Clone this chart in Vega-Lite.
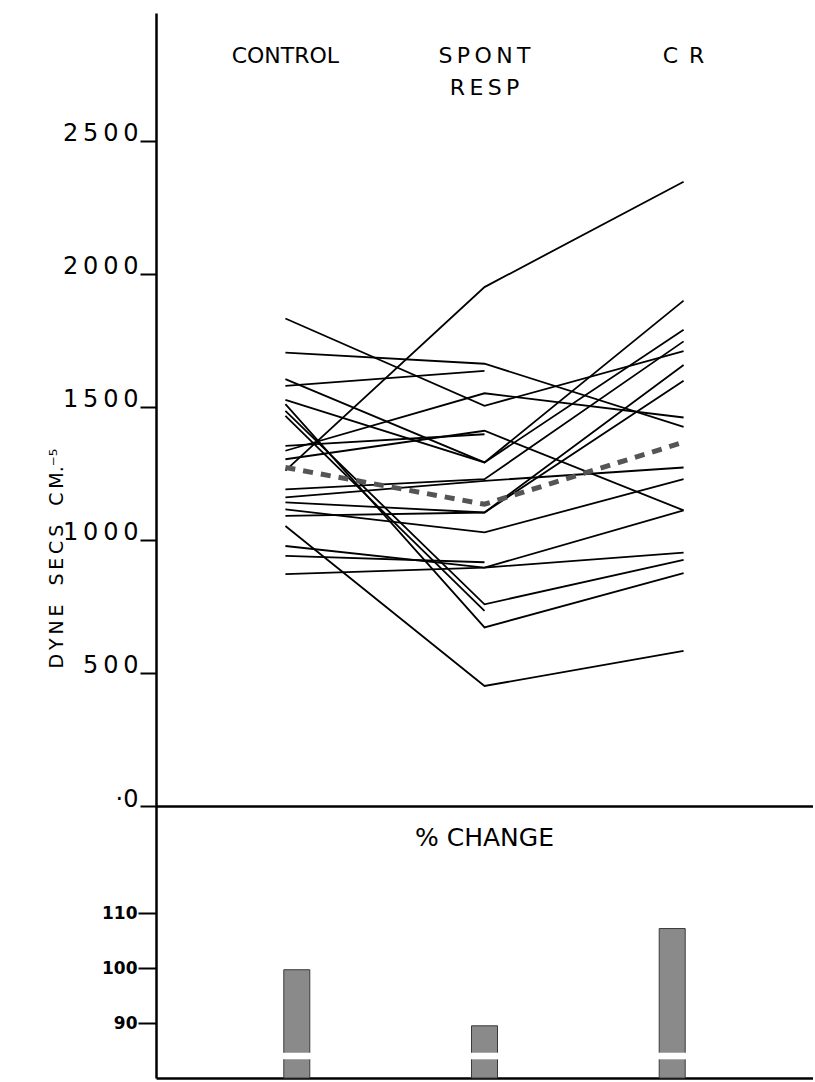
{
  "$schema": "https://vega.github.io/schema/vega-lite/v6.json",
  "padding": {"left": 47, "top": 13, "right": 0, "bottom": 2},
  "background": "white",
  "config": {"view": {"stroke": null}, "font": "DejaVu Sans"},
  "datasets": {
    "subjects": [
      {"subj": "S1", "cond": "CONTROL", "v": 1260}, {"subj": "S1", "cond": "SPONT RESP", "v": 1950}, {"subj": "S1", "cond": "CR", "v": 2346},
      {"subj": "S2", "cond": "CONTROL", "v": 1832}, {"subj": "S2", "cond": "SPONT RESP", "v": 1504}, {"subj": "S2", "cond": "CR", "v": 1709},
      {"subj": "S3", "cond": "CONTROL", "v": 1704}, {"subj": "S3", "cond": "SPONT RESP", "v": 1662}, {"subj": "S3", "cond": "CR", "v": 1425},
      {"subj": "S4", "cond": "CONTROL", "v": 1579}, {"subj": "S4", "cond": "SPONT RESP", "v": 1635},
      {"subj": "S5", "cond": "CONTROL", "v": 1604}, {"subj": "S5", "cond": "SPONT RESP", "v": 1291}, {"subj": "S5", "cond": "CR", "v": 1790},
      {"subj": "S6", "cond": "CONTROL", "v": 1526}, {"subj": "S6", "cond": "SPONT RESP", "v": 1291}, {"subj": "S6", "cond": "CR", "v": 1899},
      {"subj": "S7", "cond": "CONTROL", "v": 1335}, {"subj": "S7", "cond": "SPONT RESP", "v": 1551}, {"subj": "S7", "cond": "CR", "v": 1460},
      {"subj": "S8", "cond": "CONTROL", "v": 1353}, {"subj": "S8", "cond": "SPONT RESP", "v": 1397},
      {"subj": "S9", "cond": "CONTROL", "v": 1510}, {"subj": "S9", "cond": "SPONT RESP", "v": 671}, {"subj": "S9", "cond": "CR", "v": 875},
      {"subj": "S10", "cond": "CONTROL", "v": 1485}, {"subj": "S10", "cond": "SPONT RESP", "v": 758}, {"subj": "S10", "cond": "CR", "v": 925},
      {"subj": "S11", "cond": "CONTROL", "v": 1466}, {"subj": "S11", "cond": "SPONT RESP", "v": 733},
      {"subj": "S12", "cond": "CONTROL", "v": 1052}, {"subj": "S12", "cond": "SPONT RESP", "v": 451}, {"subj": "S12", "cond": "CR", "v": 583},
      {"subj": "S13", "cond": "CONTROL", "v": 1190}, {"subj": "S13", "cond": "SPONT RESP", "v": 1228}, {"subj": "S13", "cond": "CR", "v": 1746},
      {"subj": "S14", "cond": "CONTROL", "v": 1141}, {"subj": "S14", "cond": "SPONT RESP", "v": 1103}, {"subj": "S14", "cond": "CR", "v": 1657},
      {"subj": "S15", "cond": "CONTROL", "v": 1115}, {"subj": "S15", "cond": "SPONT RESP", "v": 1028}, {"subj": "S15", "cond": "CR", "v": 1228},
      {"subj": "S16", "cond": "CONTROL", "v": 977}, {"subj": "S16", "cond": "SPONT RESP", "v": 896}, {"subj": "S16", "cond": "CR", "v": 1111},
      {"subj": "S17", "cond": "CONTROL", "v": 940}, {"subj": "S17", "cond": "SPONT RESP", "v": 916},
      {"subj": "S18", "cond": "CONTROL", "v": 871}, {"subj": "S18", "cond": "SPONT RESP", "v": 896}, {"subj": "S18", "cond": "CR", "v": 952},
      {"subj": "S19", "cond": "CONTROL", "v": 1303}, {"subj": "S19", "cond": "SPONT RESP", "v": 1410}, {"subj": "S19", "cond": "CR", "v": 1111},
      {"subj": "S20", "cond": "CONTROL", "v": 1160}, {"subj": "S20", "cond": "SPONT RESP", "v": 1222}, {"subj": "S20", "cond": "CR", "v": 1272},
      {"subj": "S21", "cond": "CONTROL", "v": 1090}, {"subj": "S21", "cond": "SPONT RESP", "v": 1103}, {"subj": "S21", "cond": "CR", "v": 1598}
    ],
    "mean": [
      {"cond": "CONTROL", "v": 1272}, {"cond": "SPONT RESP", "v": 1134}, {"cond": "CR", "v": 1367}
    ],
    "headers": [
      {"cond": "CONTROL", "label": "CONTROL"},
      {"cond": "SPONT RESP", "label": "S\u2009P\u2009O\u2009N\u2009T\nR\u2009E\u2009S\u2009P"},
      {"cond": "CR", "label": "C\u2002R"}
    ],
    "pct": [
      {"cond": "CONTROL", "pct": 99.7},
      {"cond": "SPONT RESP", "pct": 89.5},
      {"cond": "CR", "pct": 107.2}
    ]
  },
  "spacing": 0,
  "bounds": "flush",
  "vconcat": [
    {
      "width": 657,
      "height": 793,
      "encoding": {
        "x": {
          "field": "cond", "type": "nominal",
          "scale": {"type": "point", "domain": ["CONTROL", "SPONT RESP", "CR"], "padding": 0.65},
          "axis": {"orient": "bottom", "labels": false, "ticks": false, "title": null, "grid": false, "domainColor": "black", "domainWidth": 2.5}
        }
      },
      "layer": [
        {
          "data": {"name": "subjects"},
          "mark": {"type": "line", "color": "black", "strokeWidth": 1.8},
          "encoding": {
            "y": {
              "field": "v", "type": "quantitative",
              "scale": {"domain": [0, 2980], "nice": false, "zero": true},
              "axis": {
                "values": [0, 500, 1000, 1500, 2000, 2500], "format": "d",
                "labelExpr": "datum.value === 2500 ? '2\u20095\u20090\u20090' : datum.value === 2000 ? '2\u20090\u20090\u20090' : datum.value === 1500 ? '1\u20095\u20090\u20090' : datum.value === 1000 ? '1\u20090\u20090\u20090' : datum.value === 500 ? '5\u20090\u20090' : '·0'",
                "grid": false,
                "labelFontSize": 24, "labelColor": "black", "labelBaseline": "alphabetic", "labelPadding": 2,
                "tickSize": 16, "tickWidth": 2, "tickColor": "black",
                "domainColor": "black", "domainWidth": 2.5,
                "title": "D\u2009Y\u2009N\u2009E\u2002\u2002S\u2009E\u2009C\u2009S\u2002\u2002C\u2009M.⁻⁵", "titleFontSize": 19, "titleFontWeight": "normal", "titleColor": "black",
                "titleX": -94, "titleY": 545, "titleAngle": -90, "titleAlign": "center", "titleBaseline": "alphabetic"
              }
            },
            "detail": {"field": "subj"}
          }
        },
        {
          "data": {"name": "mean"},
          "mark": {"type": "line", "color": "#555555", "strokeWidth": 5, "strokeDash": [10, 8]},
          "encoding": {"y": {"field": "v", "type": "quantitative"}}
        },
        {
          "data": {"name": "headers"},
          "mark": {"type": "text", "fontSize": 22, "baseline": "top", "lineBreak": "\n", "lineHeight": 32, "color": "black"},
          "encoding": {
            "y": {"datum": 2855},
            "text": {"field": "label"}
          }
        }
      ]
    },
    {
      "width": 657,
      "height": 272,
      "encoding": {
        "x": {
          "field": "cond", "type": "nominal",
          "scale": {"type": "band", "domain": ["CONTROL", "SPONT RESP", "CR"], "paddingInner": 0, "paddingOuter": 0.25},
          "axis": {"orient": "bottom", "labels": false, "ticks": false, "title": null, "grid": false, "domainColor": "black", "domainWidth": 2.5}
        }
      },
      "layer": [
        {
          "data": {"name": "pct"},
          "mark": {"type": "bar", "width": 26, "color": "#8a8a8a", "stroke": "#3a3a3a", "strokeWidth": 1},
          "encoding": {
            "y": {
              "field": "pct", "type": "quantitative",
              "scale": {"domain": [80, 129.5], "nice": false, "zero": false},
              "axis": {
                "values": [90, 100, 110], "grid": false,
                "labelFontSize": 17, "labelFontWeight": "bold", "labelColor": "black", "labelPadding": 1,
                "tickSize": 18, "tickWidth": 2, "tickColor": "black",
                "domainColor": "black", "domainWidth": 2.5, "title": null
              }
            },
            "y2": {"datum": 80}
          }
        },
        {
          "data": {"name": "pct"},
          "mark": {"type": "bar", "width": 30, "color": "white"},
          "encoding": {
            "y": {"datum": 83.4},
            "y2": {"datum": 84.6}
          }
        },
        {
          "data": {"values": [{"t": "% CHANGE"}]},
          "mark": {"type": "text", "fontSize": 25, "baseline": "middle", "color": "black"},
          "encoding": {
            "x": {"datum": "SPONT RESP"},
            "y": {"datum": 123.6},
            "text": {"field": "t"}
          }
        }
      ]
    }
  ]
}
